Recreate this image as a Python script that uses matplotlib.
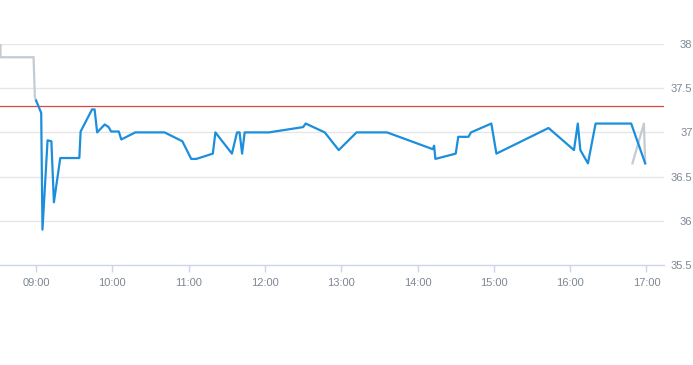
import matplotlib
matplotlib.use("Agg")
import matplotlib.pyplot as plt

# ---- data ----
pre_times = ["08:32", "08:32", "08:58", "08:59", "09:00"]
pre_values = [38.00, 37.85, 37.85, 37.40, 37.36]

main_times = ["09:00", "09:04", "09:05", "09:09", "09:12", "09:14", "09:19", "09:34",
              "09:35", "09:44", "09:46", "09:48", "09:50", "09:54", "09:57", "09:59",
              "10:05", "10:07", "10:18", "10:41", "10:55", "11:02", "11:06", "11:19",
              "11:21", "11:34", "11:38", "11:40", "11:42", "11:44", "12:03", "12:30",
              "12:32", "12:47", "12:58", "13:12", "13:36", "14:12", "14:13", "14:14",
              "14:30", "14:32", "14:40", "14:42", "14:58", "15:02", "15:43", "16:03",
              "16:06", "16:08", "16:14", "16:20", "16:48", "16:59"]
main_values = [37.36, 37.22, 35.90, 36.91, 36.90, 36.21, 36.71, 36.71,
               37.01, 37.26, 37.26, 37.00, 37.03, 37.09, 37.06, 37.01,
               37.01, 36.92, 37.00, 37.00, 36.90, 36.70, 36.70, 36.76,
               37.00, 36.76, 37.00, 37.00, 36.76, 37.00, 37.00, 37.06,
               37.10, 37.00, 36.80, 37.00, 37.00, 36.81, 36.85, 36.70,
               36.76, 36.95, 36.95, 37.00, 37.10, 36.76, 37.05, 36.80,
               37.10, 36.80, 36.65, 37.10, 37.10, 36.65]

post_times = ["16:49", "16:58", "16:59"]
post_values = [36.65, 37.10, 36.65]

reference_level = 37.30

x_tick_labels = ["09:00", "10:00", "11:00", "12:00", "13:00", "14:00", "15:00", "16:00", "17:00"]
y_ticks = [35.5, 36, 36.5, 37, 37.5, 38]
y_tick_labels = ["35.5", "36", "36.5", "37", "37.5", "38"]


def to_min(s):
    h, m = s.split(":")
    return int(h) * 60 + float(m)


W, H = 693, 365
fig = plt.figure(figsize=(W / 100, H / 100), dpi=100)
left, right, top, bottom = 0, 664, 44, 265
ax = fig.add_axes([left / W, (H - bottom) / H, (right - left) / W, (bottom - top) / H])

grid_c = "#e6e6e6"
label_c = "#7d8793"

for y in y_ticks[1:]:
    ax.axhline(y, color=grid_c, lw=1.0, zorder=0)

ax.axhline(reference_level, color="#d9473f", lw=0.9, zorder=1)

ax.plot([to_min(t) for t in pre_times], pre_values, color="#c3cbd3", lw=1.6, zorder=2,
        solid_joinstyle="miter")
ax.plot([to_min(t) for t in post_times], post_values, color="#c3cbd3", lw=1.6, zorder=2)
ax.plot([to_min(t) for t in main_times], main_values, color="#1b8fdc", lw=1.6, zorder=3)

ax.set_xlim(8 * 60 + 31.6, 17 * 60 + 13.8)
ax.set_ylim(35.5, 38.0)

for s in ["top", "left", "right"]:
    ax.spines[s].set_visible(False)
ax.spines["bottom"].set_color("#ccd6eb")
ax.spines["bottom"].set_linewidth(1.0)

ax.set_xticks([to_min(t) for t in x_tick_labels])
ax.set_xticklabels(x_tick_labels, fontsize=8, color=label_c, family="Liberation Sans")
ax.tick_params(axis="x", length=5, width=1, color="#ccd6eb", pad=4)

ax.yaxis.tick_right()
ax.set_yticks(y_ticks)
ax.set_yticklabels(y_tick_labels, fontsize=8, color=label_c, family="Liberation Sans")
ax.tick_params(axis="y", length=0, pad=20.5)
for lab in ax.get_yticklabels():
    lab.set_horizontalalignment("right")

ax.patch.set_alpha(0)
fig.savefig("out.png", dpi=100)
